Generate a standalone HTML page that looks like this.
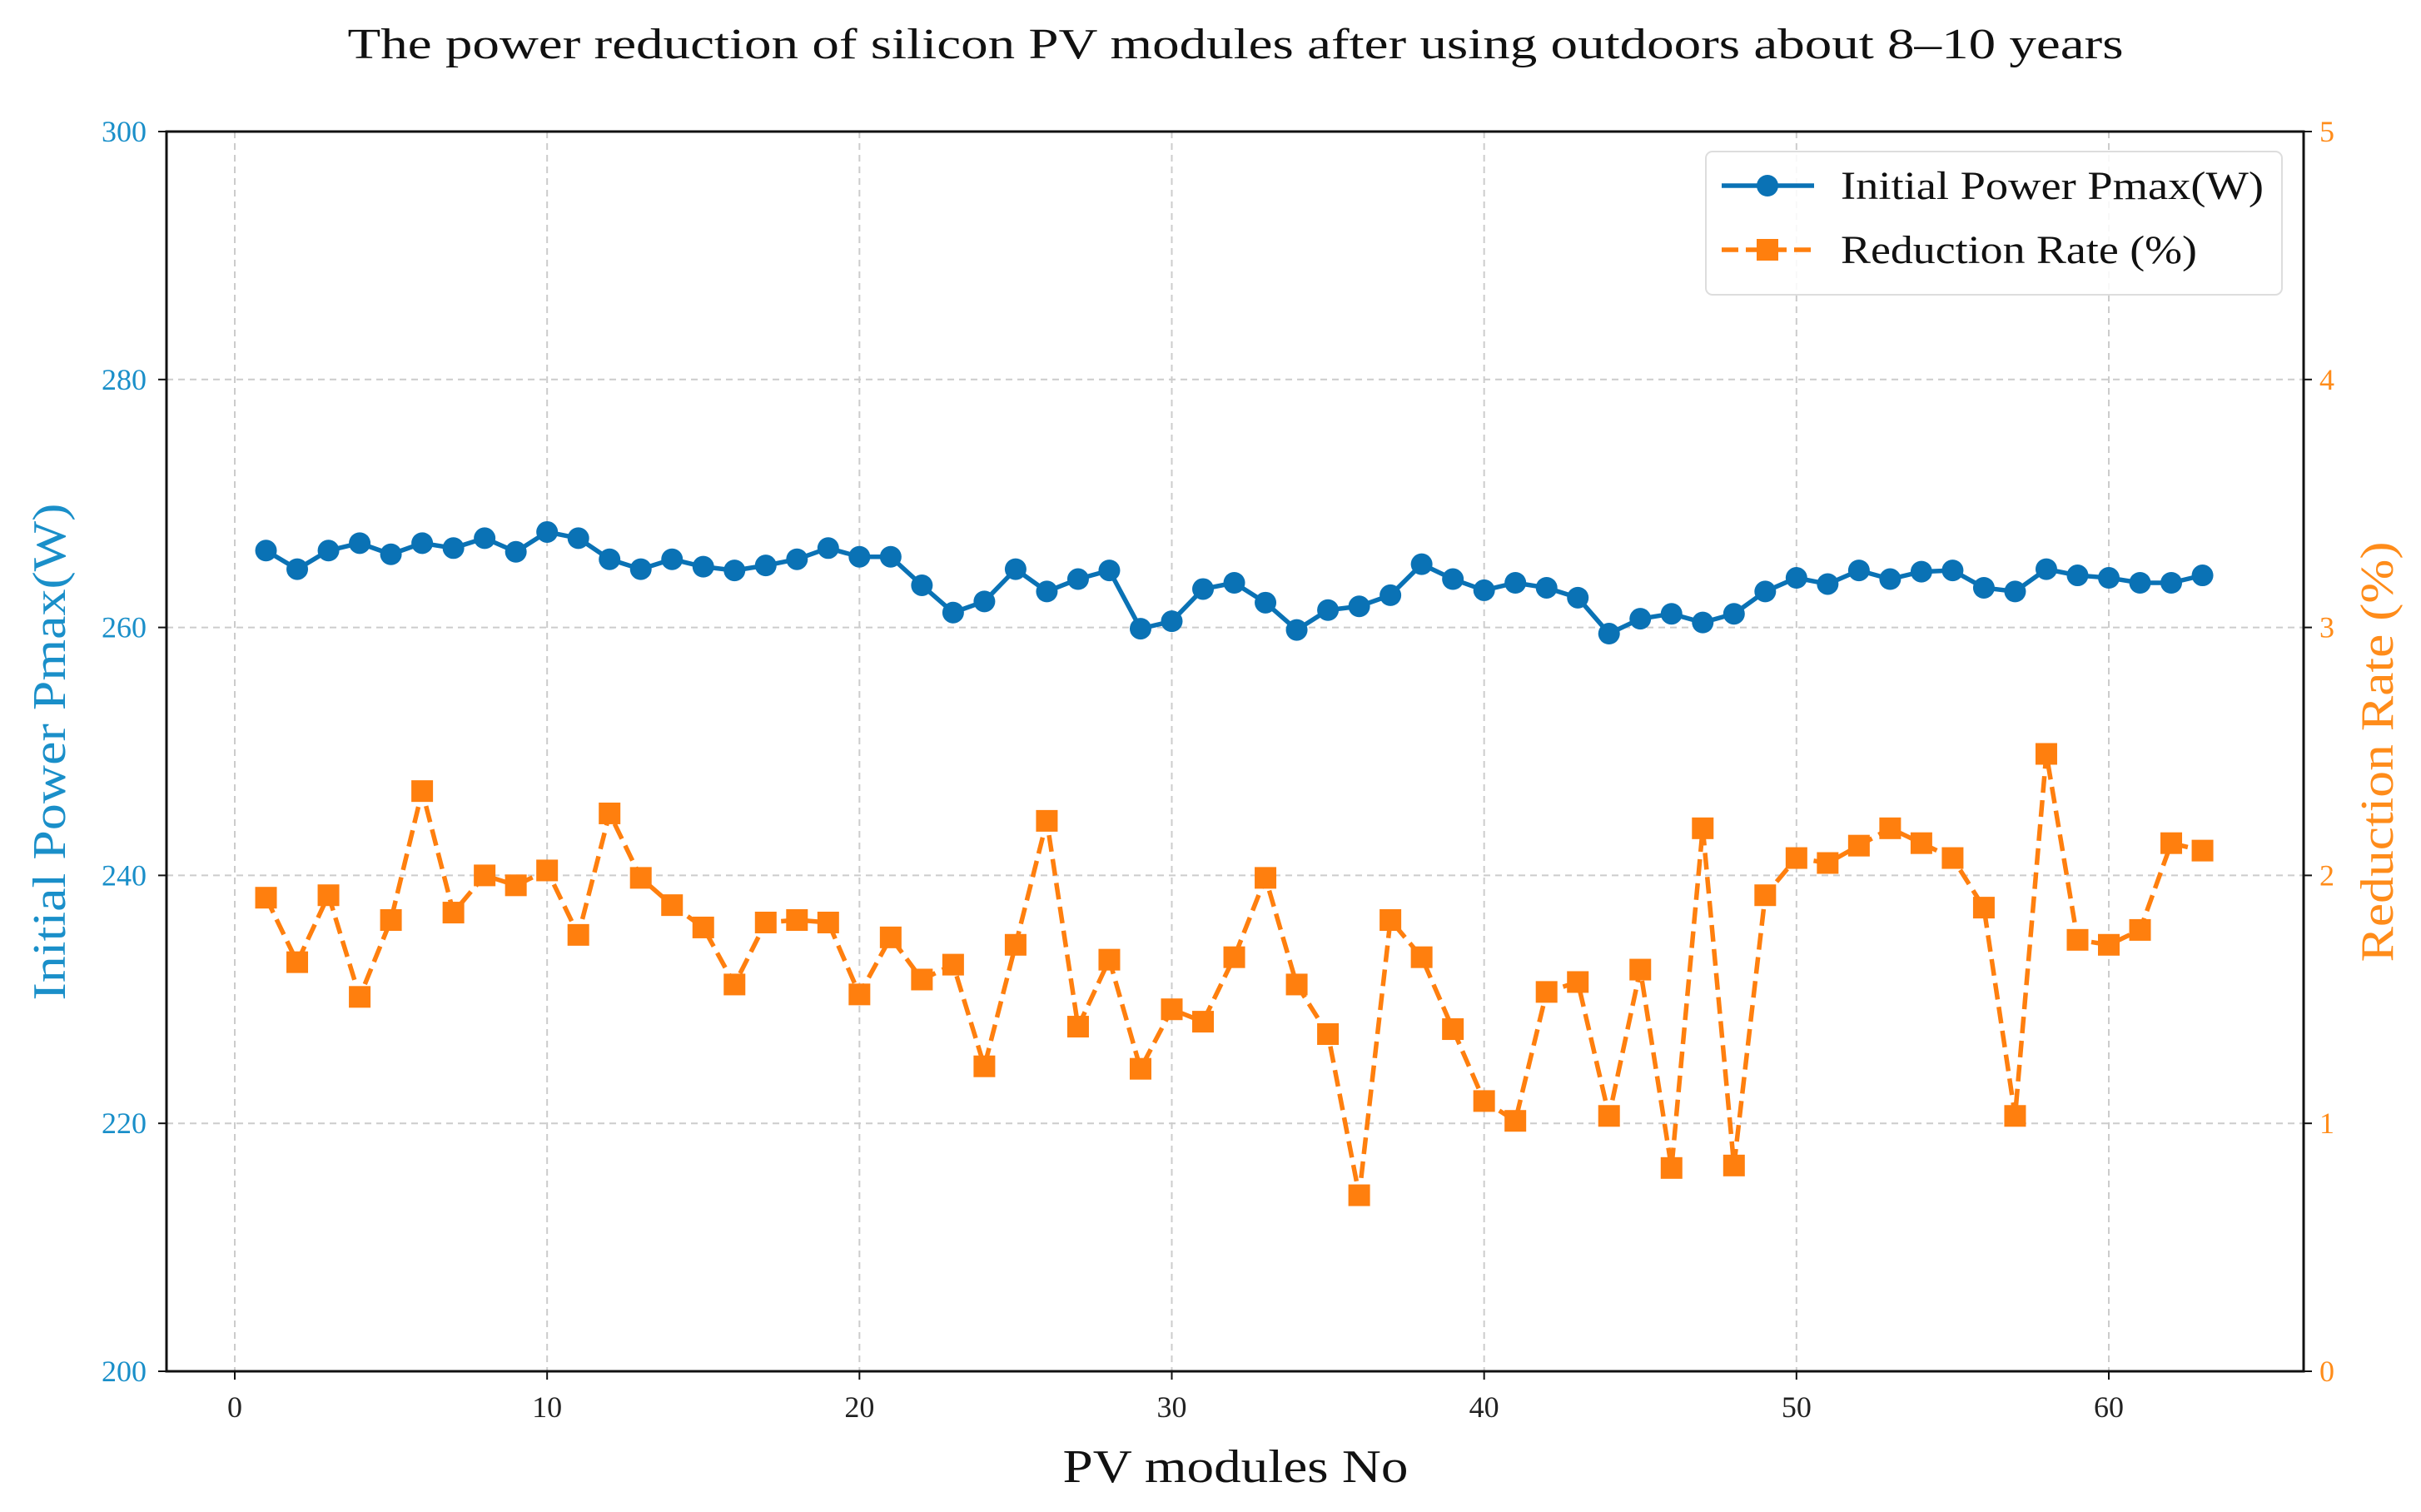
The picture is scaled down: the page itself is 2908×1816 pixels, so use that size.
<!DOCTYPE html>
<html><head><meta charset="utf-8"><style>
html,body{margin:0;padding:0;background:#fff;}
svg{display:block;font-family:"Liberation Serif",serif;}
</style></head><body>
<svg id="chart" width="2908" height="1816" viewBox="0 0 2908 1816"></svg>
<script>
const moduleNos = Array.from({length:63},(_,i)=>i+1);
const powerValues = [266.2,264.7,266.2,266.8,265.9,266.8,266.4,267.2,266.1,267.7,267.2,265.5,264.7,265.5,264.9,264.6,265.0,265.5,266.4,265.7,265.7,263.4,261.2,262.1,264.7,262.9,263.9,264.6,259.9,260.5,263.1,263.6,262.0,259.8,261.4,261.7,262.6,265.1,263.9,263.0,263.6,263.2,262.4,259.5,260.7,261.1,260.4,261.1,262.9,264.0,263.5,264.6,263.9,264.5,264.6,263.2,262.9,264.7,264.2,264.0,263.6,263.6,264.2];
const reductionValues = [1.91,1.65,1.92,1.51,1.82,2.34,1.85,2.00,1.96,2.02,1.76,2.25,1.99,1.88,1.79,1.56,1.81,1.82,1.81,1.52,1.75,1.58,1.64,1.23,1.72,2.22,1.39,1.66,1.22,1.46,1.41,1.67,1.99,1.56,1.36,0.71,1.82,1.67,1.38,1.09,1.01,1.53,1.57,1.03,1.62,0.82,2.19,0.83,1.92,2.07,2.05,2.12,2.19,2.13,2.07,1.87,1.03,2.49,1.74,1.72,1.78,2.13,2.10];
const xTicks = [0,10,20,30,40,50,60];
const leftTicks = [200,220,240,260,280,300];
const rightTicks = [0,1,2,3,4,5];

const L=200,R=2767,T=158,B=1647;
const xScale=v=>282+(v)*(2533-282)/60;
const yL=v=>B-(v-200)/100*(B-T);
const yR=v=>B-v/5*(B-T);
const svg=document.getElementById('chart');
const NS='http://www.w3.org/2000/svg';
function mk(tag,attrs,parent){const e=document.createElementNS(NS,tag);for(const k in attrs)e.setAttribute(k,attrs[k]);(parent||svg).appendChild(e);return e;}

xTicks.forEach(t=>{const e=mk('line',{x1:xScale(t),x2:xScale(t),y1:T,y2:B,stroke:'#ccc','stroke-width':2,'stroke-dasharray':'8,6'});

});
leftTicks.forEach(t=>{const e=mk('line',{x1:L,x2:R,y1:yL(t),y2:yL(t),stroke:'#ccc','stroke-width':2,'stroke-dasharray':'8,6'});

});

const fr=mk('rect',{x:L,y:T,width:R-L,height:B-T,fill:'none',stroke:'#111','stroke-width':3});



xTicks.forEach(t=>{mk('line',{x1:xScale(t),x2:xScale(t),y1:B,y2:B+10,stroke:'#111','stroke-width':2});
const e=mk('text',{x:xScale(t),y:1702,'text-anchor':'middle','font-size':36,fill:'#222'});e.textContent=t;

});
leftTicks.forEach(t=>{mk('line',{x1:L-10,x2:L,y1:yL(t),y2:yL(t),stroke:'#111','stroke-width':2});
const e=mk('text',{x:176,y:yL(t)+12,'text-anchor':'end','font-size':36,fill:'#1a8fc9'});e.textContent=t;

});
rightTicks.forEach(t=>{mk('line',{x1:R,x2:R+10,y1:yR(t),y2:yR(t),stroke:'#111','stroke-width':2});
const e=mk('text',{x:2786,y:yR(t)+12,'text-anchor':'start','font-size':36,fill:'#ff8c1a'});e.textContent=t;

});

const blue='#0a72b5',orange='#ff7f0e';
const pl=mk('polyline',{points:moduleNos.map((m,i)=>xScale(m)+','+yL(powerValues[i])).join(' '),fill:'none',stroke:blue,'stroke-width':5.5,'stroke-linejoin':'round'});


moduleNos.forEach((m,i)=>{const c=mk('circle',{cx:xScale(m),cy:yL(powerValues[i]),r:13,fill:blue});

});

const rl=mk('polyline',{points:moduleNos.map((m,i)=>xScale(m)+','+yR(reductionValues[i])).join(' '),fill:'none',stroke:orange,'stroke-width':5.5,'stroke-dasharray':'20,9'});


moduleNos.forEach((m,i)=>{const s=mk('rect',{x:xScale(m)-13,y:yR(reductionValues[i])-13,width:26,height:26,fill:orange});

});

const lg=mk('g',{});


mk('rect',{x:2049,y:182,width:692,height:172,rx:8,fill:'#fff','fill-opacity':0.85,stroke:'#ddd','stroke-width':2},lg);
mk('line',{x1:2068,x2:2179,y1:223,y2:223,stroke:blue,'stroke-width':5.5},lg);
mk('circle',{cx:2123,cy:223,r:13,fill:blue},lg);
let t1=mk('text',{x:2211,y:239,'font-size':48,fill:'#111',textLength:508,lengthAdjust:'spacingAndGlyphs'},lg);t1.textContent='Initial Power Pmax(W)';


mk('line',{x1:2068,x2:2179,y1:300,y2:300,stroke:orange,'stroke-width':5.5,'stroke-dasharray':'20,9'},lg);
mk('rect',{x:2110,y:287,width:26,height:26,fill:orange},lg);
let t2=mk('text',{x:2211,y:316,'font-size':48,fill:'#111',textLength:428,lengthAdjust:'spacingAndGlyphs'},lg);t2.textContent='Reduction Rate (%)';



let tt=mk('text',{x:1484,y:70,'text-anchor':'middle','font-size':52,fill:'#111',textLength:2133,lengthAdjust:'spacingAndGlyphs'});tt.textContent='The power reduction of silicon PV modules after using outdoors about 8\u201310 years';


let xl=mk('text',{x:1484,y:1780,'text-anchor':'middle','font-size':56,fill:'#111',textLength:415,lengthAdjust:'spacingAndGlyphs'});xl.textContent='PV modules No';


let yl=mk('text',{x:0,y:0,'text-anchor':'middle','font-size':56,fill:'#1a8fc9',transform:'translate(78,903) rotate(-90)',textLength:597,lengthAdjust:'spacingAndGlyphs'});yl.textContent='Initial Power Pmax(W)';


let yr=mk('text',{x:0,y:0,'text-anchor':'middle','font-size':56,fill:'#ff8c1a',transform:'translate(2874,903) rotate(-90)',textLength:505,lengthAdjust:'spacingAndGlyphs'});yr.textContent='Reduction Rate (%)';


</script>
</body></html>
